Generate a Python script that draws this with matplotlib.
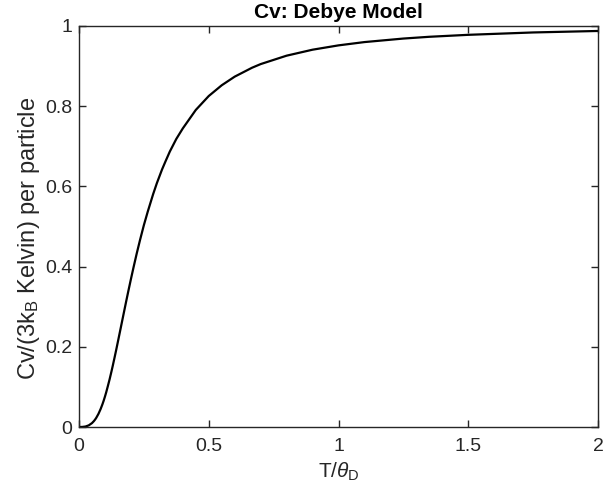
import matplotlib
matplotlib.use("Agg")
import matplotlib.pyplot as plt

plt.rcParams['font.family'] = ['Liberation Sans', 'DejaVu Sans']
plt.rcParams['mathtext.fontset'] = 'custom'
plt.rcParams['mathtext.rm'] = 'Liberation Sans'
plt.rcParams['mathtext.it'] = 'Liberation Sans:italic'

# T/theta_D values and heat capacity
t_ratio = [0, 0.0125, 0.025, 0.0375, 0.05, 0.0575, 0.0625, 0.0667, 0.075, 0.0833,
           0.09, 0.095, 0.1, 0.105, 0.111, 0.118, 0.125, 0.13, 0.1375, 0.1429,
           0.15, 0.16, 0.1667, 0.175, 0.1818, 0.19, 0.2, 0.21, 0.2222, 0.235,
           0.25, 0.265, 0.2857, 0.3, 0.32, 0.3333, 0.35, 0.375, 0.4, 0.45,
           0.5, 0.55, 0.6, 0.6667, 0.7, 0.8, 0.9, 1.0, 1.1, 1.25,
           1.35, 1.5, 1.75, 2.0]
cv_ratio = [0, 0.00015, 0.0012, 0.0041, 0.0097, 0.0148, 0.0190, 0.0231, 0.0328, 0.0448,
            0.0561, 0.0655, 0.0758, 0.0869, 0.1015, 0.1191, 0.1382, 0.1524, 0.1746, 0.1909,
            0.2130, 0.2445, 0.2657, 0.2919, 0.3133, 0.3385, 0.3686, 0.3977, 0.4320, 0.4659,
            0.5034, 0.5372, 0.5807, 0.6080, 0.6422, 0.6624, 0.6869, 0.7184, 0.7446, 0.7906,
            0.8254, 0.8522, 0.8737, 0.8959, 0.9050, 0.9260, 0.9409, 0.9517, 0.9599, 0.9687,
            0.9731, 0.9780, 0.9839, 0.9876]

xticks = [0, 0.5, 1, 1.5, 2]
xticklabels = ['0', '0.5', '1', '1.5', '2']
yticks = [0, 0.2, 0.4, 0.6, 0.8, 1]
yticklabels = ['0', '0.2', '0.4', '0.6', '0.8', '1']

W, H = 603, 494
fig = plt.figure(figsize=(W / 100, H / 100), dpi=100)
l, r, t, b = 79, 598, 26, 427
ax = fig.add_axes([l / W, 1 - b / H, (r - l) / W, (b - t) / H])

ax.plot(t_ratio, cv_ratio, color='black', lw=1.6, solid_joinstyle='round')
ax.set_xlim(0, 2)
ax.set_ylim(0, 1)
ax.set_xticks(xticks)
ax.set_xticklabels(xticklabels)
ax.set_yticks(yticks)
ax.set_yticklabels(yticklabels)

c = '#262626'
for s in ax.spines.values():
    s.set_color(c)
    s.set_linewidth(1.0)
ax.tick_params(direction='in', length=5, width=1.0, colors=c, labelsize=14,
               top=True, right=True)
ax.tick_params(axis='x', pad=8)
ax.tick_params(axis='y', pad=5)

ax.set_title('Cv: Debye Model', fontsize=15, fontweight='bold', color='black', pad=6)
ax.set_xlabel(r'T/$\theta_\mathrm{D}$', fontsize=15, color=c, labelpad=4)
ax.set_ylabel(r'Cv/(3k$_\mathrm{B}$ Kelvin) per particle', fontsize=17, color=c, labelpad=2)
ax.yaxis.label.set_y(0.47)

fig.savefig('out.png', dpi=100)
